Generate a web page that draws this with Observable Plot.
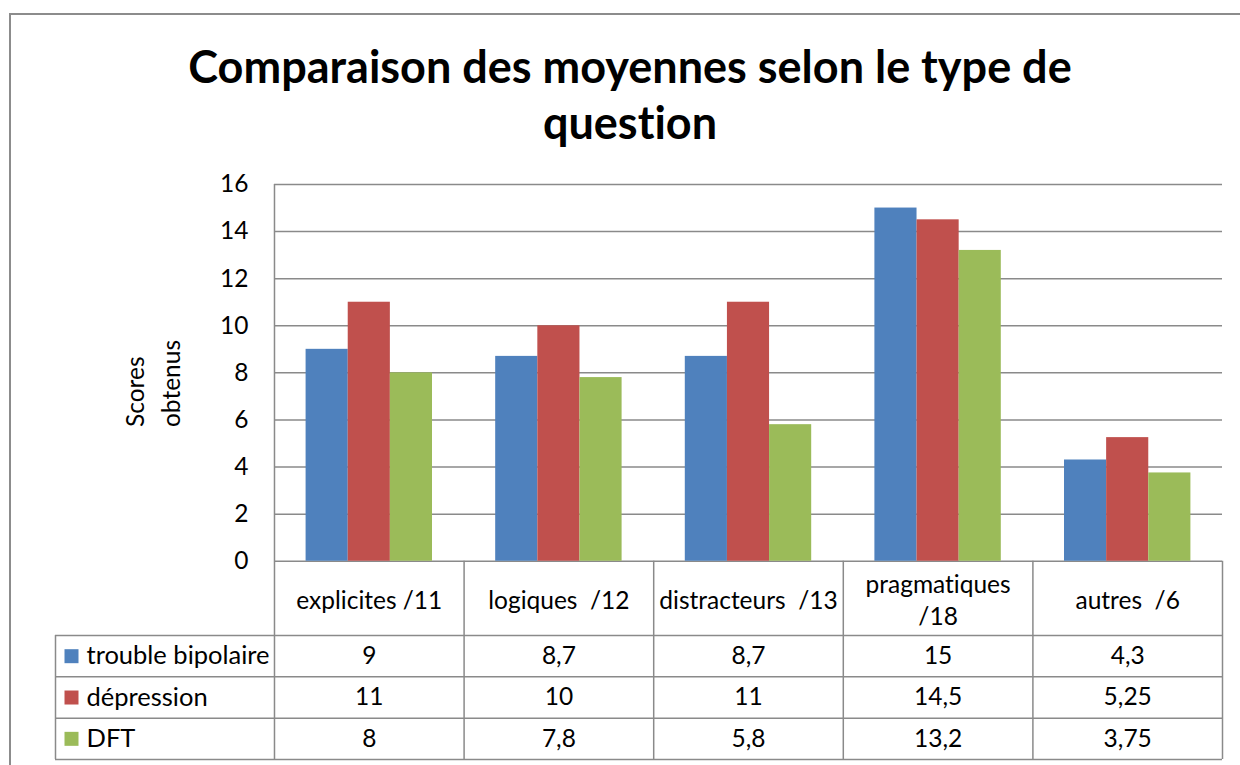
<!DOCTYPE html>
<html>
<head>
<meta charset="utf-8">
<script src="https://cdn.jsdelivr.net/npm/d3@7"></script>
<script src="https://cdn.jsdelivr.net/npm/@observablehq/plot@0.6"></script>
<style>
  html, body { margin: 0; padding: 0; width: 1240px; height: 765px; overflow: hidden; background: #fff; }
  #frame { position: absolute; left: 9px; top: 13px; width: 1300px; height: 800px; border: 2px solid #8c8c8c; box-sizing: border-box; }
  #title { position: absolute; left: 0; top: 38px; width: 1260px; text-align: center; font-family: Lato, sans-serif; font-weight: bold; font-size: 45px; line-height: 56px; color: #000; font-variant-ligatures: none; }
  #chart { position: absolute; left: 0; top: 0; }
  #chart svg text { white-space: pre; font-variant-ligatures: none; }
</style>
</head>
<body>
<div id="frame"></div>
<div id="title">Comparaison des moyennes selon le type de<br>question</div>
<div id="chart"></div>
<script>
// ---- data ----
const categories = ["explicites /11", "logiques  /12", "distracteurs  /13", "pragmatiques\n/18", "autres  /6"];
const seriesNames = ["trouble bipolaire", "dépression", "DFT"];
const bipolaire = [9, 8.7, 8.7, 15, 4.3];
const depression = [11, 10, 11, 14.5, 5.25];
const dft = [8, 7.8, 5.8, 13.2, 3.75];
const yTicks = [0, 2, 4, 6, 8, 10, 12, 14, 16];
const yLabel = "Scores\nobtenus";
const colors = ["#4F81BD", "#C0504D", "#9BBB59"];

// ---- derived table ----
const seriesValues = [bipolaire, depression, dft];
const rows = [];
seriesValues.forEach((vals, s) => vals.forEach((v, i) => rows.push({i, s, series: seriesNames[s], cat: categories[i], value: v})));
const fmt = v => String(v).replace(".", ",");

// layout constants (in scale units)
const leftCol = -1.155;      // legend column left edge
const hdr = -3.155;          // header row bottom
const rowH = 1.755;          // data row height
const bottom = hdr - 3 * rowH;
const gap = 0.75, nb = 4.5;  // Excel gap width 150%
const gridColor = "#8a8a8a";
const sw = 1.5;
const fs = 24.5;

const hLines = [
  {y: hdr, x1: leftCol, x2: 5},
  ...d3.range(1, 4).map(k => ({y: hdr - k * rowH, x1: leftCol, x2: 5}))
];
const vLines = [
  {x: leftCol, y1: hdr, y2: bottom},
  {x: 0, y1: 16, y2: bottom},
  ...d3.range(1, 6).map(k => ({x: k, y1: 0, y2: bottom}))
];

const chart = Plot.plot({
  width: 1240,
  height: 765,
  marginLeft: 55,
  marginRight: 18,
  marginTop: 184,
  marginBottom: 6,
  x: {domain: [leftCol, 5], axis: null},
  y: {domain: [bottom, 16], axis: null},
  color: {domain: seriesNames, range: colors},
  style: {fontFamily: "Lato, sans-serif", fontSize: fs + "px", color: "#000", background: "transparent", overflow: "visible"},
  marks: [
    // gridlines
    Plot.ruleY(yTicks, {x1: 0, x2: 5, y: d => d, stroke: gridColor, strokeWidth: sw}),
    // bars
    Plot.rectY(rows, {
      x1: d => d.i + (gap + d.s) / nb,
      x2: d => d.i + (gap + d.s + 1) / nb,
      y: "value",
      fill: "series"
    }),
    // table lines
    Plot.ruleY(hLines, {y: "y", x1: "x1", x2: "x2", stroke: gridColor, strokeWidth: sw}),
    Plot.ruleX(vLines, {x: "x", y1: "y1", y2: "y2", stroke: gridColor, strokeWidth: sw}),
    // y tick labels
    Plot.text(yTicks, {x: 0, y: d => d, text: d => String(d), dx: -26, textAnchor: "end", fontSize: fs}),
    // y label
    Plot.text([yLabel], {frameAnchor: "left", y: 5.7, dx: 95, text: d => d, rotate: -90, textAnchor: "start", lineAnchor: "middle", lineHeight: 1.45, fontSize: fs}),
    // header row
    Plot.text(categories, {x: (d, i) => i + 0.5, y: hdr / 2, text: d => d, lineHeight: 1.32, fontSize: fs}),
    // data cells
    Plot.text(rows, {x: d => d.i + 0.5, y: d => hdr - (d.s + 0.5) * rowH, text: d => fmt(d.value), fontSize: fs}),
    // legend column
    Plot.dot(seriesNames, {x: leftCol, y: (d, s) => hdr - (s + 0.5) * rowH, dx: 16, symbol: "square", r: 7.9, fill: d => d, stroke: null}),
    Plot.text(seriesNames, {x: leftCol, y: (d, s) => hdr - (s + 0.5) * rowH, dx: 31, text: d => d, textAnchor: "start", fontSize: 25.5})
  ]
});
document.getElementById("chart").appendChild(chart);
</script>
</body>
</html>
